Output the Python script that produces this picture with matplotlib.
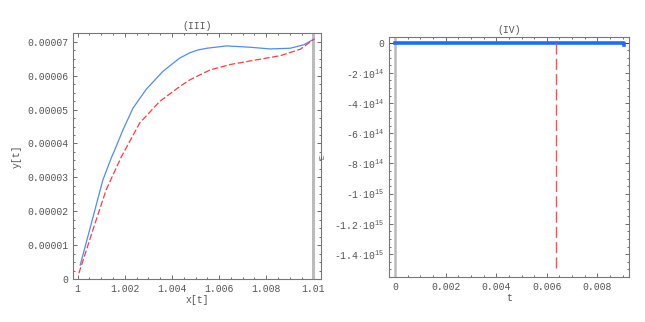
import numpy as np
import matplotlib
matplotlib.use('Agg')
import matplotlib.pyplot as plt
from matplotlib.ticker import FuncFormatter, AutoMinorLocator

plt.rcParams['font.family'] = ['Liberation Mono', 'DejaVu Sans Mono']
plt.rcParams['mathtext.fontset'] = 'custom'
plt.rcParams['mathtext.rm'] = 'Liberation Mono'
plt.rcParams['mathtext.it'] = 'Liberation Mono'

# ---- panel (III) data ----
blue_x = [1.00011, 1.00051, 1.00107, 1.001426, 1.00157, 1.001923, 1.002347, 1.002912,
          1.00362, 1.00433, 1.00477, 1.00511, 1.00548, 1.00632, 1.00731, 1.00816,
          1.00901, 1.00958, 1.01003]
blue_y = [4.1e-6, 1.45e-5, 2.92e-5, 3.57e-5, 3.8e-5, 4.40e-5, 5.04e-5, 5.6e-5,
          6.13e-5, 6.52e-5, 6.68e-5, 6.76e-5, 6.81e-5, 6.88e-5, 6.84e-5, 6.79e-5,
          6.81e-5, 6.91e-5, 7.08e-5]
red_x = [1.000055, 1.00065, 1.00121, 1.00185, 1.00263, 1.00348, 1.00433,
         1.00477, 1.00511, 1.00562, 1.00647, 1.0076, 1.00859, 1.00944, 1.01003]
red_y = [1.7e-6, 1.45e-5, 2.63e-5, 3.6e-5, 4.6e-5, 5.24e-5, 5.68e-5,
         5.88e-5, 6.0e-5, 6.17e-5, 6.33e-5, 6.47e-5, 6.59e-5, 6.78e-5, 7.08e-5]
xticks3 = [1, 1.002, 1.004, 1.006, 1.008, 1.01]
xlabels3 = ['1', '1.002', '1.004', '1.006', '1.008', '1.01']
yticks3 = [0, 1e-5, 2e-5, 3e-5, 4e-5, 5e-5, 6e-5, 7e-5]
ylabels3 = ['0', '0.00001', '0.00002', '0.00003', '0.00004', '0.00005', '0.00006', '0.00007']

# ---- panel (IV) data ----
t_blue = [0.0, 0.0090, 0.00903, 0.00903]
E_blue = [0.0, 0.0, 0.0, -1.3e13]
t_red = [0.00635, 0.00635]
E_red = [0.0, -1.51e15]
xticks4 = [0, 0.002, 0.004, 0.006, 0.008]
xlabels4 = ['0', '0.002', '0.004', '0.006', '0.008']
yticks4 = [0, -2e14, -4e14, -6e14, -8e14, -1e15, -1.2e15, -1.4e15]

fig = plt.figure(figsize=(6.45, 3.22), dpi=100)
ax1 = fig.add_axes([0.113, 0.1335, 0.385, 0.764])
ax2 = fig.add_axes([0.6036, 0.1407, 0.3721, 0.7453])

fs = 7
for ax in (ax1, ax2):
    for s in ax.spines.values():
        s.set_color('#777777')
        s.set_linewidth(0.8)
    ax.tick_params(which='both', direction='in', top=True, right=True,
                   labelsize=fs, colors='#555555', length=3, width=0.6)
    ax.tick_params(which='minor', length=1.5)
    ax.xaxis.set_minor_locator(AutoMinorLocator(4))
    ax.yaxis.set_minor_locator(AutoMinorLocator(4))

# (III)
ax1.axvline(1.00998, color='#bbbbbb', lw=2.2)
ax1.plot(blue_x, blue_y, color='#4d8cff', lw=0.9)
ax1.plot(red_x, red_y, color='#ff3c3c', lw=0.9, dashes=(5, 2))
ax1.set_xlim(0.9998, 1.01033)
ax1.set_ylim(0, 7.26e-5)
ax1.set_xticks(xticks3)
ax1.set_xticklabels(xlabels3)
ax1.set_yticks(yticks3)
ax1.set_yticklabels(ylabels3)
ax1.set_title('(III)', fontsize=fs, color='#555555', pad=3)
ax1.set_xlabel('x[t]', fontsize=fs, color='#555555', labelpad=1)
ax1.set_ylabel('y[t]', fontsize=fs, color='#555555', labelpad=4)

# (IV)
def efmt(v, pos):
    if v == 0:
        return '0'
    e = 15 if abs(v) >= 1e15 else 14
    m = v / 10**e
    return r'-$%g\cdot10^{%d}$' % (abs(m), e)

ax2.axvline(0, color='#bbbbbb', lw=1.8)
ax2.axhline(0, color='#333333', lw=0.6)
ax2.plot(t_blue, E_blue, color='#1a6eff', lw=2.6)
ax2.plot(t_red, E_red, color='#ff5050', lw=1.0, dashes=(8, 3))
ax2.set_xlim(-0.000225, 0.00926)
ax2.set_ylim(-1.55e15, 0.4e14)
ax2.set_xticks(xticks4)
ax2.set_xticklabels(xlabels4)
ax2.set_yticks(yticks4)
ax2.yaxis.set_major_formatter(FuncFormatter(efmt))
ax2.set_title('(IV)', fontsize=fs, color='#555555', pad=3)
ax2.set_xlabel('t', fontsize=fs, color='#555555', labelpad=1)
ax2.set_ylabel('E', fontsize=5, color='#555555', labelpad=6)

fig.savefig('out.png', dpi=100)
